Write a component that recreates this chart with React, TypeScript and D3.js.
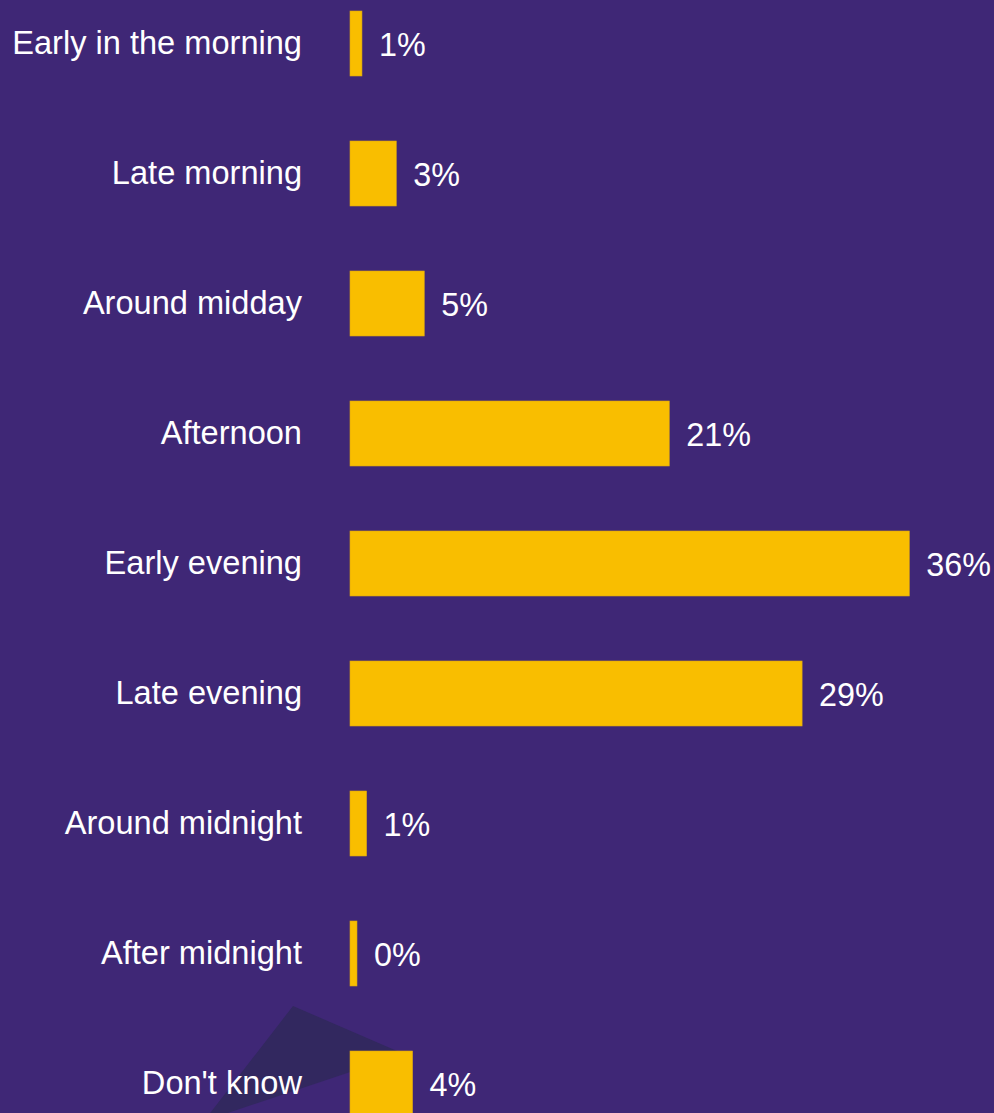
import React from "react";
import * as d3 from "d3";

const categories = [
  "Early in the morning",
  "Late morning",
  "Around midday",
  "Afternoon",
  "Early evening",
  "Late evening",
  "Around midnight",
  "After midnight",
  "Don't know",
];
const values = [0.77, 2.98, 4.78, 20.55, 36.0, 29.1, 1.07, 0.45, 4.03];

const W = 994;
const H = 1113;
const BG = "#3f2776";
const BAR = "#f9be00";
const DECOR = "#32285f";

export default function App() {
  const y = d3
    .scaleBand<string>()
    .domain(categories)
    .range([-21.5, -21.5 + 130 * categories.length])
    .paddingInner(0.5)
    .paddingOuter(0.25);
  const x = d3.scaleLinear().domain([0, 36]).range([350, 909.3]);
  const tri = d3.line()([
    [293, 1006],
    [404, 1054],
    [204, 1121],
  ]) + "Z";
  const font = "'Liberation Sans', Arial, Helvetica, sans-serif";
  return (
    <svg
      width={W}
      height={H}
      style={{ position: "absolute", left: 0, top: 0, display: "block" }}
      fontFamily={font}
    >
      <rect x={0} y={0} width={W} height={H} fill={BG} />
      <path d={tri} fill={DECOR} />
      {categories.map((c, i) => {
        const yy = y(c)!;
        const bw = y.bandwidth();
        const cy = yy + bw / 2;
        return (
          <g key={c}>
            <rect
              x={x(0)}
              y={yy}
              width={x(values[i]) - x(0)}
              height={bw}
              fill={BAR}
              stroke="#d9a512"
              strokeWidth={0.6}
            />
            <text
              x={302}
              y={cy + 10.5}
              textAnchor="end"
              fill="#ffffff"
              fontSize={32.6}
            >
              {c}
            </text>
            <text
              x={x(values[i]) + 17}
              y={cy + 12.5}
              fill="#ffffff"
              fontSize={32.3}
            >
              {Math.round(values[i])}%
            </text>
          </g>
        );
      })}
    </svg>
  );
}
